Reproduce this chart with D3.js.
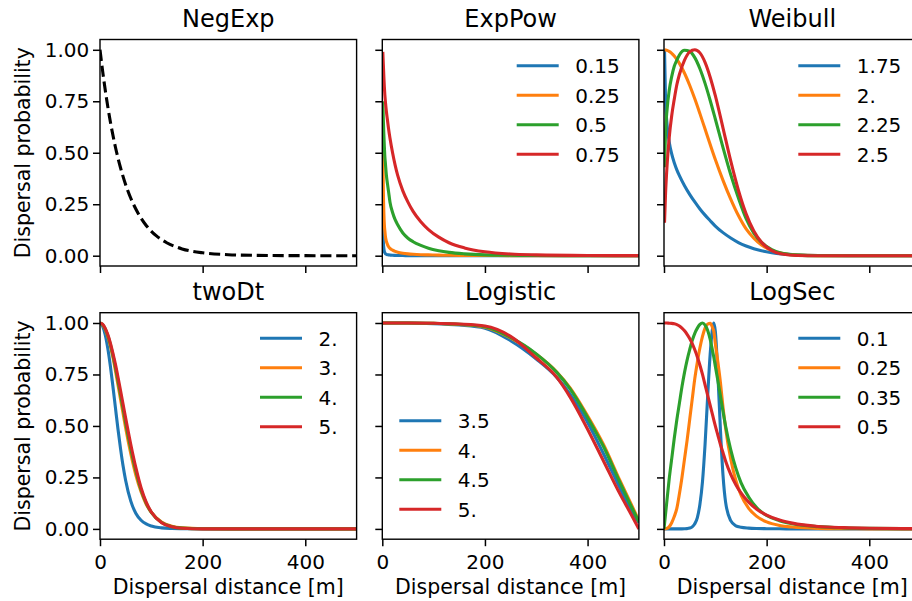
<!DOCTYPE html>
<html><head><meta charset="utf-8">
<script src="https://cdn.jsdelivr.net/npm/d3@7"></script>
<style>body{margin:0;background:#fff} svg{display:block} text{font-family:"DejaVu Sans",sans-serif}</style>
</head><body><svg id="c" width="912" height="601"></svg>
<script>
// ---------------- data ----------------
const xTicks = [0, 200, 400];
const yTicks = [0, 0.25, 0.5, 0.75, 1.0];
const colors = ["#1f77b4", "#ff7f0e", "#2ca02c", "#d62728"];

const negExpX = [0, 5, 10, 20, 30, 40, 50, 60, 75, 90, 110, 130, 160, 200, 250, 300, 400, 500];
const negExpY = [1, 0.899, 0.808, 0.653, 0.528, 0.427, 0.345, 0.279, 0.203, 0.147, 0.096, 0.063, 0.033, 0.014, 0.005, 0.002, 0.0002, 0];

const expPowLabels = ["0.15", "0.25", "0.5", "0.75"];
const expPowX = [1, 2, 3, 4, 5, 6, 8, 10, 12, 15, 20, 25, 30, 40, 50, 60, 75, 90, 110, 130, 160, 200, 250, 300, 400, 500];
const expPow015 = [0.2, 0.07, 0.035, 0.02, 0.014, 0.01, 0.007, 0.005, 0.004, 0.003, 0.002, 0.0015, 0.001, 0.0007, 0.0005, 0.0004, 0.0003, 0.0002, 0.0001, 0.0001, 0, 0, 0, 0, 0, 0];
const expPow025 = [0.53, 0.32, 0.21, 0.15, 0.12, 0.095, 0.07, 0.055, 0.045, 0.036, 0.027, 0.021, 0.017, 0.012, 0.009, 0.007, 0.005, 0.004, 0.003, 0.002, 0.0015, 0.001, 0.0006, 0.0004, 0.0002, 0.0001];
const expPow05 = [0.75, 0.66, 0.59, 0.53, 0.48, 0.45, 0.39, 0.35, 0.315, 0.26, 0.21, 0.175, 0.15, 0.11, 0.085, 0.068, 0.05, 0.036, 0.024, 0.016, 0.009, 0.004, 0.002, 0.001, 0.0002, 0];
const expPow075 = [0.99, 0.93, 0.87, 0.82, 0.78, 0.75, 0.70, 0.66, 0.62, 0.57, 0.50, 0.44, 0.39, 0.315, 0.26, 0.215, 0.165, 0.127, 0.09, 0.063, 0.038, 0.019, 0.008, 0.004, 0.001, 0.0003];

const weibullLabels = ["1.75", "2.", "2.25", "2.5"];
const weibullX = [1, 3, 6, 10, 15, 20, 25, 30, 40, 50, 60, 70, 80, 90, 100, 115, 130, 145, 160, 175, 190, 210, 230, 260, 300, 400, 500];
const weibull175 = [1, 0.758, 0.635, 0.555, 0.494, 0.451, 0.417, 0.389, 0.34, 0.298, 0.261, 0.227, 0.197, 0.17, 0.144, 0.112, 0.086, 0.064, 0.047, 0.034, 0.024, 0.015, 0.009, 0.004, 0.001, 0, 0];
const weibull200 = [1, 0.999, 0.997, 0.992, 0.983, 0.97, 0.953, 0.934, 0.886, 0.828, 0.762, 0.69, 0.615, 0.54, 0.467, 0.366, 0.275, 0.195, 0.13, 0.085, 0.052, 0.026, 0.012, 0.003, 0.0005, 0, 0];
const weibull225 = [0.43, 0.6, 0.71, 0.8, 0.87, 0.92, 0.95, 0.975, 0.998, 0.993, 0.962, 0.908, 0.837, 0.754, 0.664, 0.525, 0.394, 0.28, 0.18, 0.11, 0.065, 0.03, 0.012, 0.003, 0.0004, 0, 0];
const weibull250 = [0.16, 0.3, 0.44, 0.57, 0.68, 0.76, 0.83, 0.88, 0.95, 0.99, 1.0, 0.985, 0.939, 0.867, 0.777, 0.62, 0.46, 0.318, 0.203, 0.12, 0.065, 0.025, 0.008, 0.0013, 0, 0, 0];

const twoDtLabels = ["2.", "3.", "4.", "5."];
const twoDtX = [0, 5, 10, 15, 20, 25, 30, 35, 40, 45, 50, 60, 70, 80, 90, 100, 120, 140, 160, 200, 300, 500];
const twoDt2 = [1, 0.985, 0.945, 0.88, 0.795, 0.695, 0.59, 0.485, 0.39, 0.305, 0.235, 0.135, 0.075, 0.042, 0.024, 0.014, 0.005, 0.002, 0.001, 0.0003, 0, 0];
const twoDt3 = [1, 0.992, 0.97, 0.935, 0.89, 0.835, 0.77, 0.7, 0.63, 0.56, 0.49, 0.365, 0.26, 0.18, 0.12, 0.08, 0.033, 0.013, 0.005, 0.001, 0, 0];
const twoDt4 = [1, 0.993, 0.973, 0.94, 0.897, 0.845, 0.785, 0.72, 0.652, 0.585, 0.515, 0.39, 0.28, 0.19, 0.125, 0.08, 0.031, 0.011, 0.004, 0.0005, 0, 0];
const twoDt5 = [1, 0.994, 0.975, 0.945, 0.905, 0.855, 0.8, 0.738, 0.672, 0.605, 0.538, 0.41, 0.296, 0.2, 0.13, 0.082, 0.03, 0.01, 0.003, 0.0003, 0, 0];

const logisticLabels = ["3.5", "4.", "4.5", "5."];
const logisticX = [0, 50, 100, 150, 200, 250, 300, 340, 366, 398, 431, 463, 485, 500];
const logistic35 = [1, 1, 0.997, 0.99, 0.975, 0.914, 0.825, 0.736, 0.655, 0.526, 0.365, 0.2, 0.09, 0.03];
const logistic40 = [1, 1, 0.998, 0.993, 0.98, 0.928, 0.848, 0.762, 0.685, 0.558, 0.41, 0.235, 0.12, 0.04];
const logistic45 = [1, 1, 0.998, 0.994, 0.982, 0.93, 0.85, 0.76, 0.68, 0.55, 0.40, 0.226, 0.11, 0.035];
const logistic50 = [1, 1, 0.999, 0.995, 0.985, 0.935, 0.83, 0.736, 0.64, 0.494, 0.33, 0.17, 0.07, 0.0];

const logSecLabels = ["0.1", "0.25", "0.35", "0.5"];
const logSecX = [0, 5, 10, 15, 20, 25, 30, 35, 40, 45, 50, 55, 60, 65, 70, 75, 80, 85, 90, 95, 97, 100, 105, 110, 115, 120, 130, 140, 150, 165, 180, 200, 225, 250, 300, 350, 400, 500];
const logSec010 = [0, 0, 0, 0, 0, 0, 0, 0, 0.0005, 0.0015, 0.004, 0.01, 0.025, 0.055, 0.12, 0.23, 0.41, 0.64, 0.85, 0.98, 1.0, 0.96, 0.75, 0.48, 0.26, 0.13, 0.04, 0.015, 0.008, 0.004, 0.002, 0.001, 0.0005, 0.0003, 0.0001, 0, 0, 0];
const logSec025 = [0, 0.002, 0.01, 0.03, 0.06, 0.1, 0.17, 0.25, 0.34, 0.43, 0.53, 0.63, 0.73, 0.81, 0.88, 0.935, 0.975, 0.995, 0.998, 0.975, 0.96, 0.9, 0.81, 0.71, 0.59, 0.49, 0.34, 0.235, 0.165, 0.1, 0.062, 0.034, 0.017, 0.009, 0.0025, 0.0008, 0.0003, 0];
const logSec035 = [0, 0.12, 0.24, 0.34, 0.44, 0.53, 0.61, 0.69, 0.76, 0.82, 0.87, 0.915, 0.95, 0.975, 0.993, 1.0, 0.99, 0.965, 0.92, 0.86, 0.835, 0.79, 0.72, 0.645, 0.57, 0.5, 0.385, 0.295, 0.225, 0.155, 0.105, 0.065, 0.04, 0.025, 0.011, 0.005, 0.0025, 0.001];
const logSec050 = [1, 1, 0.999, 0.998, 0.996, 0.992, 0.985, 0.975, 0.962, 0.945, 0.925, 0.9, 0.87, 0.835, 0.795, 0.75, 0.7, 0.65, 0.6, 0.55, 0.53, 0.5, 0.455, 0.41, 0.37, 0.33, 0.265, 0.215, 0.175, 0.13, 0.097, 0.067, 0.043, 0.028, 0.012, 0.006, 0.003, 0.001];

// ---------------- layout ----------------
const colLeft = [100, 382.3, 664], rowTop = [39.5, 312.7];
const AW = 256.6, AH = 226.5;
const FONT = "DejaVu Sans";

const mk = (labels, arrs) => arrs.map((a, i) => ({label: labels[i], color: colors[i], values: a}));
const panels = [
  {title: "NegExp", row: 0, col: 0, xs: negExpX, series: [{label: null, color: "#000", values: negExpY, dash: "11.1,4.8"}], legend: null},
  {title: "ExpPow", row: 0, col: 1, xs: expPowX, series: mk(expPowLabels, [expPow015, expPow025, expPow05, expPow075]), legend: {dx: 134.4, dy: 26.2}},
  {title: "Weibull", row: 0, col: 2, xs: weibullX, series: mk(weibullLabels, [weibull175, weibull200, weibull225, weibull250]), legend: {dx: 134.3, dy: 26.2}},
  {title: "twoDt", row: 1, col: 0, xs: twoDtX, series: mk(twoDtLabels, [twoDt2, twoDt3, twoDt4, twoDt5]), legend: {dx: 160, dy: 25.6}},
  {title: "Logistic", row: 1, col: 1, xs: logisticX, series: mk(logisticLabels, [logistic35, logistic40, logistic45, logistic50]), legend: {dx: 17, dy: 108}},
  {title: "LogSec", row: 1, col: 2, xs: logSecX, series: mk(logSecLabels, [logSec010, logSec025, logSec035, logSec050]), legend: {dx: 134.3, dy: 25.6}}
];

const svg = d3.select("#c");
const defs = svg.append("defs");

panels.forEach((p, i) => {
  const x0 = colLeft[p.col], y0 = rowTop[p.row];
  const x = d3.scaleLinear().domain([0, 500]).range([x0, x0 + AW]);
  const y = d3.scaleLinear().domain([-0.05, 1.05]).range([y0 + AH, y0]);
  const g = svg.append("g");
  const cid = "clip" + i;
  defs.append("clipPath").attr("id", cid).append("rect")
    .attr("x", x0).attr("y", y0).attr("width", AW).attr("height", AH);

  const line = d3.line().x(d => x(d[0])).y(d => y(d[1])).curve(d3.curveMonotoneX);
  p.series.forEach(s => {
    g.append("path")
      .attr("clip-path", `url(#${cid})`)
      .attr("d", line(p.xs.map((v, j) => [v, s.values[j]])))
      .attr("fill", "none").attr("stroke", s.color).attr("stroke-width", 3.1)
      .attr("stroke-linejoin", "round")
      .attr("stroke-dasharray", s.dash || null);
  });

  const xa = g.append("g").attr("transform", `translate(0,${y0 + AH})`)
    .call(d3.axisBottom(x).tickValues(xTicks).tickSize(7).tickSizeOuter(0).tickPadding(8.5)
      .tickFormat(p.row === 1 ? d3.format("d") : () => ""));
  const ya = g.append("g").attr("transform", `translate(${x0},0)`)
    .call(d3.axisLeft(y).tickValues(yTicks).tickSize(7).tickSizeOuter(0).tickPadding(3.8)
      .tickFormat(p.col === 0 ? d3.format(".2f") : () => ""));
  [xa, ya].forEach(a => {
    a.select(".domain").remove();
    a.attr("font-size", 20).attr("font-family", FONT);
    a.selectAll(".tick line").attr("stroke", "#000").attr("stroke-width", 1.5);
    a.selectAll(".tick text").attr("fill", "#000");
  });

  g.append("rect").attr("x", x0).attr("y", y0).attr("width", AW).attr("height", AH)
    .attr("fill", "none").attr("stroke", "#000").attr("stroke-width", 1.4);

  g.append("text").attr("x", x0 + AW / 2).attr("y", y0 - 12.5).attr("text-anchor", "middle")
    .attr("font-size", 24).attr("font-family", FONT).attr("fill", "#000").text(p.title);

  if (p.row === 1) {
    g.append("text").attr("x", x0 + AW / 2).attr("y", 594).attr("text-anchor", "middle")
      .attr("font-size", 20.5).attr("font-family", FONT).attr("fill", "#000").text("Dispersal distance [m]");
  }
  if (p.col === 0) {
    g.append("text").attr("transform", `translate(30,${y0 + AH / 2}) rotate(-90)`).attr("text-anchor", "middle")
      .attr("font-size", 20.5).attr("font-family", FONT).attr("fill", "#000").text("Dispersal probability");
  }

  if (p.legend) {
    const lg = g.append("g");
    p.series.forEach((s, k) => {
      const ly = y0 + p.legend.dy + k * 29.5;
      const lx = x0 + p.legend.dx;
      lg.append("line").attr("x1", lx).attr("x2", lx + 42).attr("y1", ly).attr("y2", ly)
        .attr("stroke", s.color).attr("stroke-width", 3.1);
      lg.append("text").attr("x", lx + 58.5).attr("y", ly + 7.3).attr("font-size", 20)
        .attr("font-family", FONT).attr("fill", "#000").text(s.label);
    });
  }
});
</script></body></html>
